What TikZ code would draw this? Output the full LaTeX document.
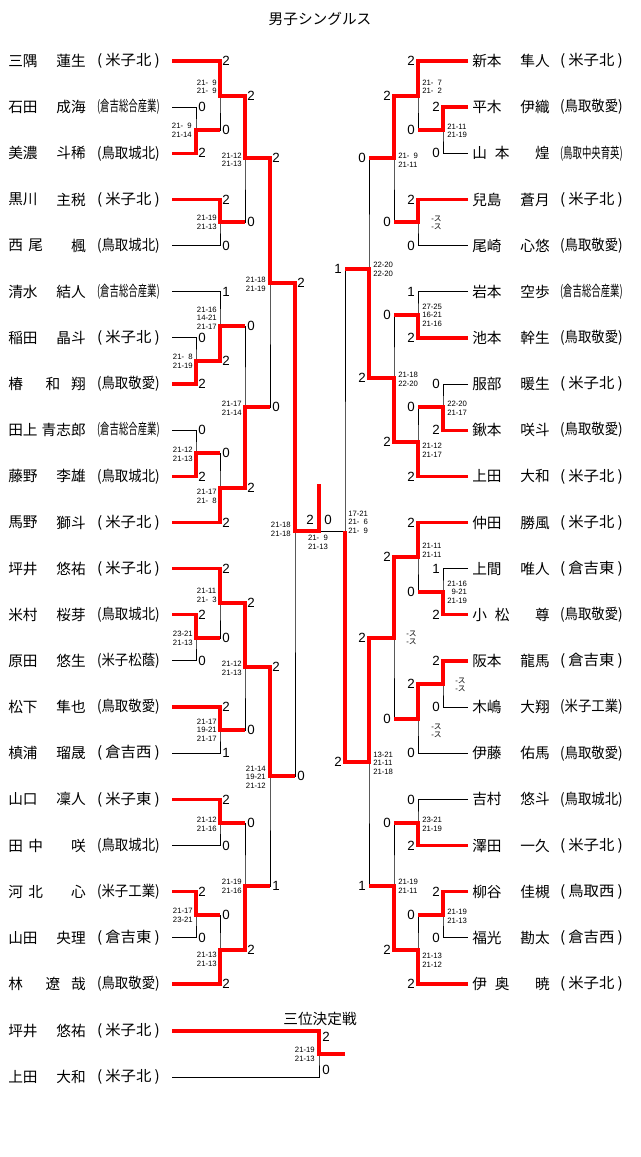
\documentclass[tikz,border=0pt]{standalone}
\usepackage{fontspec}
\setmainfont{Liberation Sans}
\newfontfamily\jp{Noto Sans CJK JP}
\usetikzlibrary{calc}
\newcommand\school[1]{\resizebox{47pt}{\height}{#1}}
\newcommand\figsp{\phantom{0}}
\newcommand\nogame{-{\jp ス}}
\newcommand\pad{\hspace{2.2pt}}

\begin{document}
\begin{tikzpicture}[x=0.75pt,y=0.75pt,yscale=-1,xscale=1,
  win/.style={draw=red,line width=2.5pt},
  lose/.style={draw=black,line width=0.7pt},
  nm/.style={inner sep=0pt,font=\jp\fontsize{11}{11}\selectfont},
  pts/.style={inner sep=0pt,font=\fontsize{10}{10}\selectfont},
  games/.style={inner sep=0pt,align=left,font=\fontsize{5.8}{6.5}\selectfont}]
\useasboundingbox (0,0) rectangle (640,1157);

% Text Node
\node[nm] (title) at (320,19) {男子シングルス};
\node[nm] (third) at (320,1019) {三位決定戦};

% players, left
\foreach \k/\sur/\giv/\scl in {1/三隅/蓮生/{(\pad{}米子北\pad{})}, 2/石田/成海/{(倉吉総合産業)},
  3/美濃/斗稀/{(鳥取城北)}, 4/黒川/主税/{(\pad{}米子北\pad{})}, 5/{西\hspace{4pt}尾}/楓/{(鳥取城北)},
  6/清水/結人/{(倉吉総合産業)}, 7/稲田/晶斗/{(\pad{}米子北\pad{})}, 8/椿/{和\hspace{8pt}翔}/{(鳥取敬愛)},
  9/田上/青志郎/{(倉吉総合産業)}, 10/藤野/李雄/{(鳥取城北)}, 11/馬野/獅斗/{(\pad{}米子北\pad{})},
  12/坪井/悠祐/{(\pad{}米子北\pad{})}, 13/米村/桜芽/{(鳥取城北)}, 14/原田/悠生/{(米子松蔭)},
  15/松下/隼也/{(鳥取敬愛)}, 16/槙浦/瑠晟/{(\pad{}倉吉西\pad{})}, 17/山口/凜人/{(\pad{}米子東\pad{})},
  18/{田\hspace{4pt}中}/咲/{(鳥取城北)}, 19/{河\hspace{4pt}北}/心/{(米子工業)},
  20/山田/央理/{(\pad{}倉吉東\pad{})}, 21/林/{遼\hspace{8pt}哉}/{(鳥取敬愛)}}{
  \pgfmathsetmacro\yy{61+46.15*(\k-1)}
  \coordinate (L\k) at (172,\yy);
  \node[nm,anchor=west] (Ls\k) at (8,\yy) {\sur};
  \node[nm,anchor=east] (Lg\k) at (86,\yy) {\giv};
  \node[nm,anchor=east] (Lc\k) at (160,\yy) {\school{\scl}};
}

% players, right
\foreach \k/\sur/\giv/\scl in {1/新本/隼人/{(\pad{}米子北\pad{})}, 2/平木/伊織/{(鳥取敬愛)},
  3/{山\hspace{6pt}本}/煌/{(鳥取中央育英)}, 4/兒島/蒼月/{(\pad{}米子北\pad{})}, 5/尾崎/心悠/{(鳥取敬愛)},
  6/岩本/空歩/{(倉吉総合産業)}, 7/池本/幹生/{(鳥取敬愛)}, 8/服部/暖生/{(\pad{}米子北\pad{})},
  9/鍬本/咲斗/{(鳥取敬愛)}, 10/上田/大和/{(\pad{}米子北\pad{})}, 11/仲田/勝風/{(\pad{}米子北\pad{})},
  12/上間/唯人/{(\pad{}倉吉東\pad{})}, 13/{小\hspace{6pt}松}/尊/{(鳥取敬愛)}, 14/阪本/龍馬/{(\pad{}倉吉東\pad{})},
  15/木嶋/大翔/{(米子工業)}, 16/伊藤/佑馬/{(鳥取敬愛)}, 17/吉村/悠斗/{(鳥取城北)},
  18/澤田/一久/{(\pad{}米子北\pad{})}, 19/柳谷/佳槻/{(\pad{}鳥取西\pad{})}, 20/福光/勘太/{(\pad{}倉吉西\pad{})},
  21/{伊\hspace{6pt}奥}/暁/{(\pad{}米子北\pad{})}}{
  \pgfmathsetmacro\yy{61+46.15*(\k-1)}
  \coordinate (R\k) at (468,\yy);
  \node[nm,anchor=west] (Rs\k) at (472,\yy) {\sur};
  \node[nm,anchor=east] (Rg\k) at (550,\yy) {\giv};
  \node[nm,anchor=east] (Rc\k) at (623,\yy) {\school{\scl}};
}

% players, third place
\foreach \k/\yy in {1/1031, 2/1077}{
  \coordinate (T\k) at (172,\yy);
}
\node[nm,anchor=west] (Ts1) at (8,1031) {坪井};
\node[nm,anchor=east] (Tg1) at (86,1031) {悠祐};
\node[nm,anchor=east] (Tc1) at (160,1031) {\school{(\pad{}米子北\pad{})}};
\node[nm,anchor=west] (Ts2) at (8,1077) {上田};
\node[nm,anchor=east] (Tg2) at (86,1077) {大和};
\node[nm,anchor=east] (Tc2) at (160,1077) {\school{(\pad{}米子北\pad{})}};

% match points, left
\coordinate (m11) at (196,130);
\coordinate (m12) at (196,361);
\coordinate (m13) at (196,453);
\coordinate (m14) at (196,638);
\coordinate (m15) at (196,915);
\coordinate (m21) at (220,96);
\coordinate (m22) at (220,222);
\coordinate (m23) at (220,326);
\coordinate (m24) at (220,488);
\coordinate (m25) at (220,603);
\coordinate (m26) at (220,730);
\coordinate (m27) at (220,823);
\coordinate (m28) at (220,950);
\coordinate (m31) at (245,158);
\coordinate (m32) at (245,407);
\coordinate (m33) at (245,667);
\coordinate (m34) at (245,886);
\coordinate (m41) at (270,283);
\coordinate (m42) at (270,776);
\coordinate (m51) at (295,531);
% match points, right
\coordinate (n11) at (443,130);
\coordinate (n12) at (443,407);
\coordinate (n13) at (443,592);
\coordinate (n14) at (443,684);
\coordinate (n15) at (443,915);
\coordinate (n21) at (418,96);
\coordinate (n22) at (418,222);
\coordinate (n23) at (418,315);
\coordinate (n24) at (418,442);
\coordinate (n25) at (418,557);
\coordinate (n26) at (418,719);
\coordinate (n27) at (418,823);
\coordinate (n28) at (418,950);
\coordinate (n31) at (394,158);
\coordinate (n32) at (394,378);
\coordinate (n33) at (394,638);
\coordinate (n34) at (394,886);
\coordinate (n41) at (369,269);
\coordinate (n42) at (369,762);
\coordinate (n51) at (345,531);
% final and third place
\coordinate (fin) at (319,531);
\coordinate (champ) at (319,484);
\coordinate (t3) at (319,1054);
\coordinate (t3o) at (345,1054);

% bracket lines
\foreach \a/\m/\b in {L2/m11/L3, L7/m12/L8, L9/m13/L10, L13/m14/L14, L19/m15/L20,
  L1/m21/m11, L4/m22/L5, L6/m23/m12, m13/m24/L11, L12/m25/m14, L15/m26/L16, L17/m27/L18,
  m15/m28/L21, m21/m31/m22, m23/m32/m24, m25/m33/m26, m27/m34/m28, m31/m41/m32,
  m33/m42/m34, m41/m51/m42,
  R2/n11/R3, R8/n12/R9, R12/n13/R13, R14/n14/R15, R19/n15/R20, R1/n21/n11, R4/n22/R5,
  R6/n23/R7, n12/n24/R10, R11/n25/n13, n14/n26/R16, R17/n27/R18, n15/n28/R21,
  n21/n31/n22, n23/n32/n24, n25/n33/n26, n27/n34/n28, n31/n41/n32, n33/n42/n34,
  n41/n51/n42, T1/t3/T2}
  \draw[lose] (\a) -| (\m) |- (\b);
\draw[lose] (m51) -- (n51);

% winners, left
\draw[win] (L1) -| (m21) -| (m31) -| (m41) -| (m51) -- (fin) -- (champ);
\draw[win] (L3) -| (m11) -- (m11 -| m21);
\draw[win] (L4) -| (m22) -- (m22 -| m31);
\draw[win] (L8) -| (m12) -| (m23) -- (m23 -| m32);
\draw[win] (L10) -| (m13) -- (m13 -| m24);
\draw[win] (L11) -| (m24) -| (m32) -- (m32 -| m41);
\draw[win] (L12) -| (m25) -| (m33) -| (m42) -- (m42 -| m51);
\draw[win] (L13) -| (m14) -- (m14 -| m25);
\draw[win] (L15) -| (m26) -- (m26 -| m33);
\draw[win] (L17) -| (m27) -- (m27 -| m34);
\draw[win] (L19) -| (m15) -- (m15 -| m28);
\draw[win] (L21) -| (m28) -| (m34) -- (m34 -| m42);
% winners, right
\draw[win] (R1) -| (n21) -| (n31) -- (n31 -| n41);
\draw[win] (R2) -| (n11) -- (n11 -| n21);
\draw[win] (R4) -| (n22) -- (n22 -| n31);
\draw[win] (R7) -| (n23) -- (n23 -| n32);
\draw[win] (R9) -| (n12) -- (n12 -| n24);
\draw[win] (R10) -| (n24) -| (n32) -| (n41) -- (n41 -| n51);
\draw[win] (R11) -| (n25) -| (n33) -| (n42) -| (n51);
\draw[win] (R13) -| (n13) -- (n13 -| n25);
\draw[win] (R14) -| (n14) -| (n26) -- (n26 -| n33);
\draw[win] (R18) -| (n27) -- (n27 -| n34);
\draw[win] (R19) -| (n15) -- (n15 -| n28);
\draw[win] (R21) -| (n28) -| (n34) -- (n34 -| n42);
% third place
\draw[win] (T1) -| (t3) -- (t3o);

% points, left
\foreach \p/\s [count=\c] in {L1 -| m21/2, L2 -| m11/0, L3 -| m11/2, m11 -| m21/0, m21 -| m31/2,
  L4 -| m22/2, L5 -| m22/0, m22 -| m31/0, m31 -| m41/2, L6 -| m23/1, L7 -| m12/0, L8 -| m12/2,
  m12 -| m23/2, m23 -| m32/0, L9 -| m13/0, L10 -| m13/2, m13 -| m24/0, L11 -| m24/2,
  m24 -| m32/2, m32 -| m41/0, m41 -| m51/2, L12 -| m25/2, L13 -| m14/2, L14 -| m14/0,
  m14 -| m25/0, m25 -| m33/2, L15 -| m26/2, L16 -| m26/1, m26 -| m33/0, m33 -| m42/2,
  L17 -| m27/2, L18 -| m27/0, m27 -| m34/0, L19 -| m15/2, L20 -| m15/0, m15 -| m28/0,
  L21 -| m28/2, m28 -| m34/2, m34 -| m42/1, m42 -| m51/0}
  \node[pts,anchor=west] (lp\c) at ($(\p)+(2,0)$) {\s};
% points, right
\foreach \p/\s [count=\c] in {R1 -| n21/2, R2 -| n11/2, R3 -| n11/0, n11 -| n21/0, n21 -| n31/2,
  R4 -| n22/2, R5 -| n22/0, n22 -| n31/0, n31 -| n41/0, R6 -| n23/1, R7 -| n23/2, n23 -| n32/0,
  R8 -| n12/0, R9 -| n12/2, n12 -| n24/0, R10 -| n24/2, n24 -| n32/2, n32 -| n41/2,
  n41 -| n51/1, R11 -| n25/2, R12 -| n13/1, R13 -| n13/2, n13 -| n25/0, n25 -| n33/2,
  R14 -| n14/2, R15 -| n14/0, n14 -| n26/2, R16 -| n26/0, n26 -| n33/0, n33 -| n42/2,
  R17 -| n27/0, R18 -| n27/2, n27 -| n34/0, R19 -| n15/2, R20 -| n15/0, n15 -| n28/0,
  R21 -| n28/2, n28 -| n34/2, n34 -| n42/1, n42 -| n51/2}
  \node[pts,anchor=east] (rp\c) at ($(\p)+(-3,0)$) {\s};
\node[pts] (fp1) at ($(fin)+(-9,-11)$) {2};
\node[pts] (fp2) at ($(fin)+(9,-11)$) {0};
\node[pts,anchor=west] (tp1) at ($(T1 -| t3)+(3,6)$) {2};
\node[pts,anchor=west] (tp2) at ($(T2 -| t3)+(3,-7)$) {0};

% game scores, left
\foreach \m/\dx/\dy/\t in {m21/-3/-9/{21-\figsp9\\21-\figsp9}, m11/-4/0/{21-\figsp9\\21-14},
  m31/-3/2/{21-12\\21-13}, m22/-3/0/{21-19\\21-13}, m41/-4/1/{21-18\\21-19},
  m23/-3/-8/{21-16\\14-21\\21-17}, m12/-3/0/{21-\figsp8\\21-19}, m32/-3/1/{21-17\\21-14},
  m13/-3/1/{21-12\\21-13}, m24/-3/8/{21-17\\21-\figsp8}, m51/-4/-2/{21-18\\21-18},
  m25/-3/-8/{21-11\\21-\figsp3}, m14/-3/0/{23-21\\21-13}, m33/-3/1/{21-12\\21-13},
  m26/-3/0/{21-17\\19-21\\21-17}, m42/-4/1/{21-14\\19-21\\21-12}, m27/-3/1/{21-12\\21-16},
  m34/-3/0/{21-19\\21-16}, m15/-3/0/{21-17\\23-21}, m28/-3/9/{21-13\\21-13},
  t3/-4/0/{21-19\\21-13}}
  \node[games,anchor=east] (g\m) at ($(\m)+(\dx,\dy)$) {\t};
% game scores, right
\foreach \m/\dx/\dy/\t in {n21/4/-9/{21-\figsp7\\21-\figsp2}, n11/4/1/{21-11\\21-19},
  n31/4/2/{21-\figsp9\\21-11}, n22/13/1/{\nogame\\\nogame}, n41/4/0/{22-20\\22-20},
  n23/4/0/{27-25\\16-21\\21-16}, n32/4/1/{21-18\\22-20}, n12/4/1/{22-20\\21-17},
  n24/4/8/{21-12\\21-17}, n51/3/-9/{17-21\\21-\figsp6\\21-\figsp9}, n25/4/-7/{21-11\\21-11},
  n13/4/0/{21-16\\\figsp9-21\\21-19}, n33/12/0/{\nogame\\\nogame}, n14/12/1/{\nogame\\\nogame},
  n26/13/12/{\nogame\\\nogame}, n42/4/1/{13-21\\21-11\\21-18}, n27/4/1/{23-21\\21-19},
  n34/4/0/{21-19\\21-11}, n15/4/1/{21-19\\21-13}, n28/4/10/{21-13\\21-12}}
  \node[games,anchor=west] (g\m) at ($(\m)+(\dx,\dy)$) {\t};
\node[games] (gfin) at ($(fin)+(-1,11)$) {21-\figsp9\\21-13};

\end{tikzpicture}
\end{document}
